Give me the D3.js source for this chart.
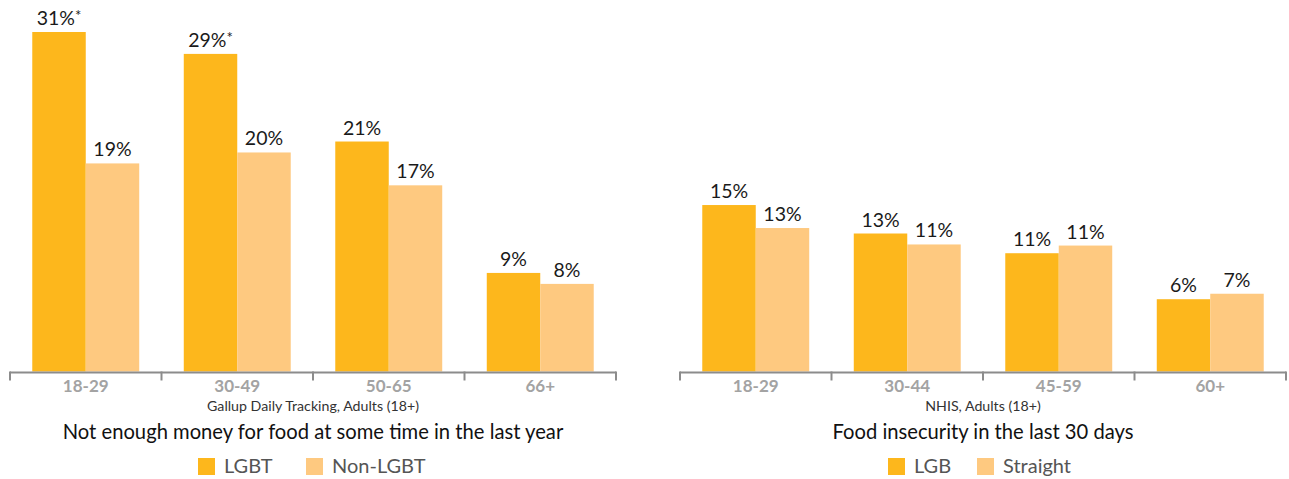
<!DOCTYPE html>
<html>
<head>
<meta charset="utf-8">
<script src="https://cdn.jsdelivr.net/npm/d3@7"></script>
<style>
  body { margin: 0; background: #fff; }
  svg { display: block; font-family: Lato, "Open Sans", sans-serif; }
</style>
</head>
<body>
<svg id="chart" width="1289" height="479"></svg>
<script>
// ---- Data ----
const leftCategories = ["18-29", "30-49", "50-65", "66+"];
const leftSeriesNames = ["LGBT", "Non-LGBT"];
const leftLGBT = [31, 29, 21, 9];
const leftNonLGBT = [19, 20, 17, 8];
const leftLGBTLabels = ["31%", "29%", "21%", "9%"];
const leftNonLGBTLabels = ["19%", "20%", "17%", "8%"];
const leftLGBTStars = ["*", "*", "", ""];
const leftSubtitle = "Gallup Daily Tracking, Adults (18+)";
const leftTitle = "Not enough money for food at some time in the last year";

const rightCategories = ["18-29", "30-44", "45-59", "60+"];
const rightSeriesNames = ["LGB", "Straight"];
const rightLGB = [15.2, 12.6, 10.8, 6.6];
const rightStraight = [13.1, 11.6, 11.5, 7.1];
const rightLGBLabels = ["15%", "13%", "11%", "6%"];
const rightStraightLabels = ["13%", "11%", "11%", "7%"];
const rightSubtitle = "NHIS, Adults (18+)";
const rightTitle = "Food insecurity in the last 30 days";

const colors = ["#FDB71C", "#FEC980"];

const svg = d3.select("#chart");
const baseY = 371.5;

function panel(cfg) {
  const g = svg.append("g");
  const x = d3.scaleBand().domain(cfg.categories).range([cfg.x0, cfg.x1])
    .paddingInner(0.294).paddingOuter(0.147);
  const xs = d3.scaleBand().domain([0, 1]).range([0, x.bandwidth()]);
  const y = d3.scaleLinear().domain([0, 31]).range([baseY, 32]);

  const series = [cfg.a, cfg.b];
  const labels = [cfg.aLabels, cfg.bLabels];
  const stars = [cfg.aStars || cfg.categories.map(() => ""), cfg.categories.map(() => "")];

  series.forEach((vals, si) => {
    g.selectAll(null).data(vals).enter().append("rect")
      .attr("x", (d, i) => x(cfg.categories[i]) + xs(si))
      .attr("width", xs.bandwidth())
      .attr("y", d => y(d))
      .attr("height", d => baseY - y(d))
      .attr("fill", colors[si]);

    const t = g.selectAll(null).data(vals).enter().append("text")
      .attr("x", (d, i) => x(cfg.categories[i]) + xs(si) + xs.bandwidth() / 2)
      .attr("y", d => y(d) - 7)
      .attr("text-anchor", "middle")
      .attr("font-size", 19.5)
      .attr("fill", "#1a1a1a");
    t.append("tspan").text((d, i) => labels[si][i]);
    t.append("tspan").attr("font-size", 15).attr("dy", -4)
      .text((d, i) => stars[si][i]);
  });

  // axis
  const axis = d3.axisBottom(x).tickSize(0).tickPadding(8);
  const ag = g.append("g").attr("transform", `translate(0,${baseY})`).call(axis);
  ag.select(".domain").remove();
  ag.selectAll("text").attr("font-size", 17).attr("font-weight", "bold")
    .attr("fill", "#a3a3a3").attr("font-family", "Lato, sans-serif");
  const step = x.step();
  const tickXs = d3.range(cfg.categories.length + 1).map(i => cfg.x0 + i * step);
  g.append("line").attr("x1", cfg.x0).attr("x2", cfg.x1)
    .attr("y1", baseY + 1).attr("y2", baseY + 1)
    .attr("stroke", "#8c8c8c").attr("stroke-width", 2);
  g.selectAll(null).data(tickXs).enter().append("line")
    .attr("x1", d => d).attr("x2", d => d)
    .attr("y1", baseY).attr("y2", baseY + 9)
    .attr("stroke", "#8c8c8c").attr("stroke-width", 2);

  const cx = (cfg.x0 + cfg.x1) / 2;
  g.append("text").attr("x", cx).attr("y", 411).attr("text-anchor", "middle")
    .attr("font-size", 14.2).attr("fill", "#333").text(cfg.subtitle);
  g.append("text").attr("x", cx).attr("y", 439).attr("text-anchor", "middle")
    .attr("font-size", 20.2).attr("fill", "#111").text(cfg.title);

  // legend
  const lg = g.append("g");
  cfg.legend.forEach((name, i) => {
    const lx = cfg.legendX[i];
    lg.append("rect").attr("x", lx).attr("y", 458).attr("width", 17).attr("height", 17)
      .attr("fill", colors[i]);
    lg.append("text").attr("x", lx + 26).attr("y", 473).attr("font-size", 20)
      .attr("fill", "#555").text(name);
  });
}

panel({
  categories: leftCategories, x0: 10, x1: 616,
  a: leftLGBT, b: leftNonLGBT, aLabels: leftLGBTLabels, bLabels: leftNonLGBTLabels,
  aStars: leftLGBTStars, subtitle: leftSubtitle, title: leftTitle,
  legend: leftSeriesNames, legendX: [198, 306]
});
panel({
  categories: rightCategories, x0: 680, x1: 1286,
  a: rightLGB, b: rightStraight, aLabels: rightLGBLabels, bLabels: rightStraightLabels,
  subtitle: rightSubtitle, title: rightTitle,
  legend: rightSeriesNames, legendX: [888, 977]
});
</script>
</body>
</html>
